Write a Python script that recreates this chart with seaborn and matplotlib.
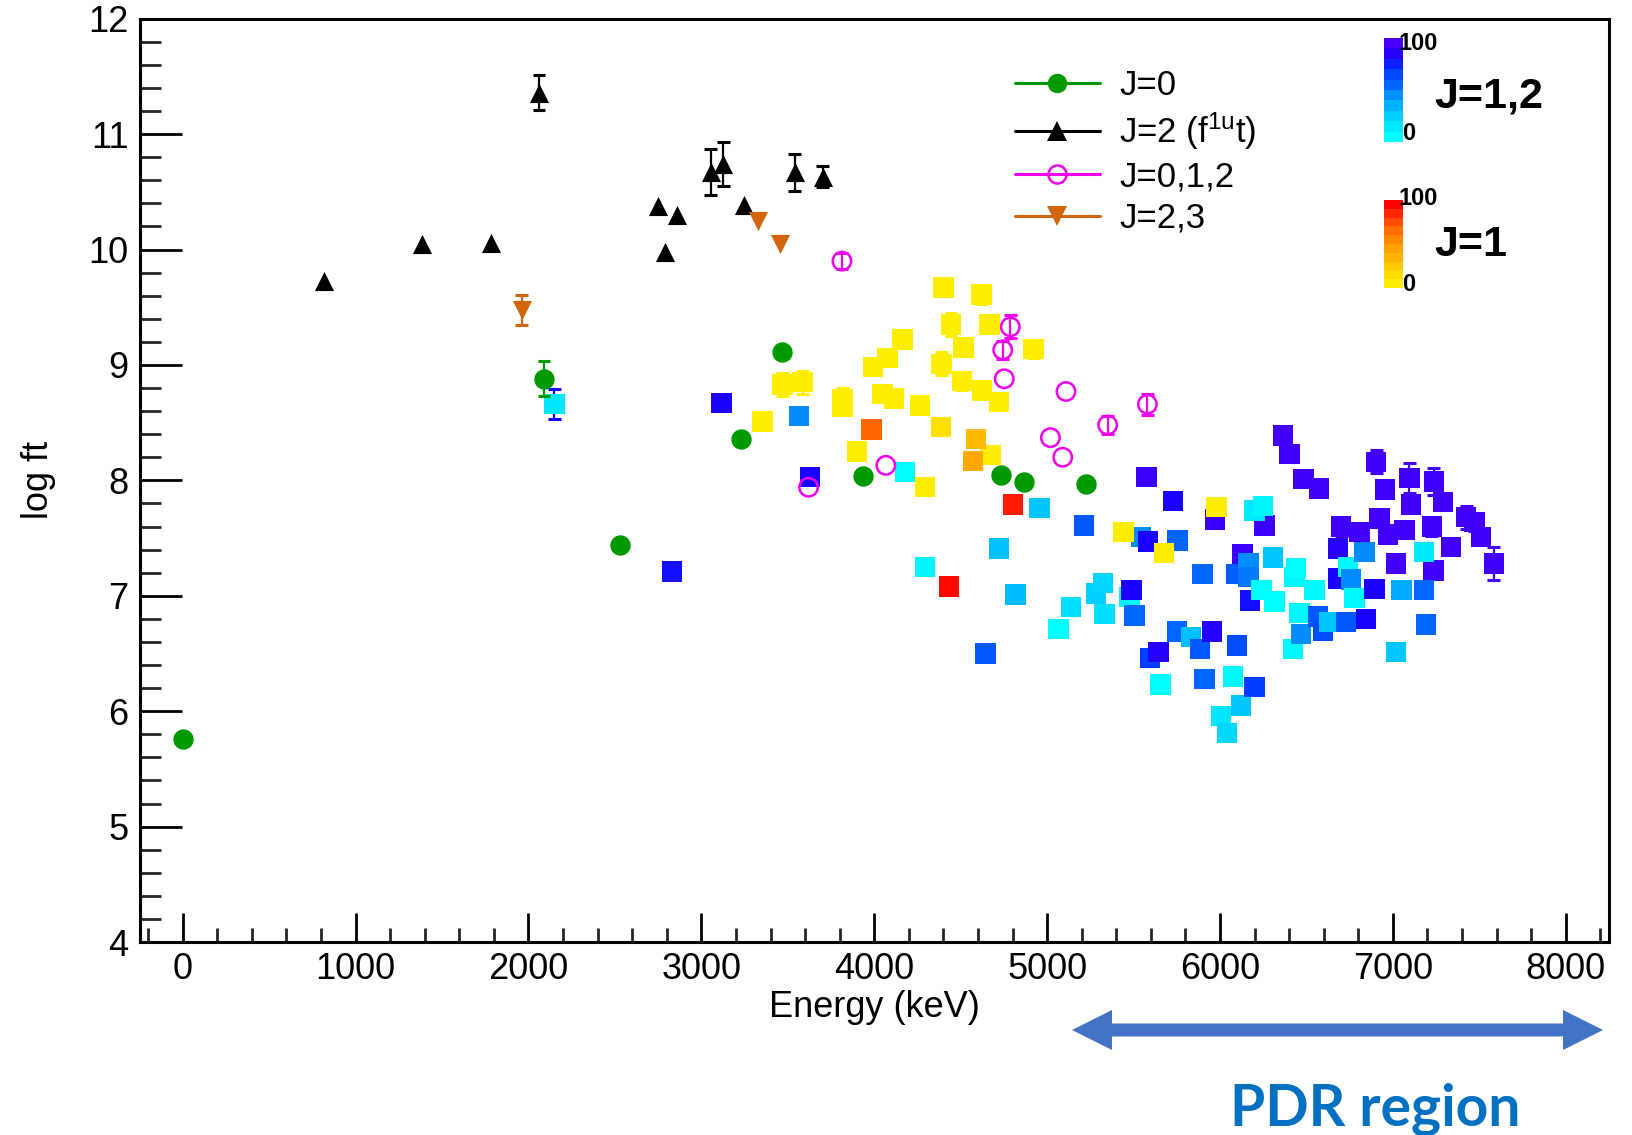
import numpy as np
import pandas as pd
import seaborn as sns
import matplotlib
matplotlib.use("Agg")
import matplotlib.pyplot as plt
from matplotlib.colors import LinearSegmentedColormap, Normalize
from matplotlib.lines import Line2D
from matplotlib.patches import Polygon
import matplotlib.ticker as mticker
import matplotlib.colorbar as mcolorbar

# ---------------- data ----------------
# J=0 (green circles)
j0_E = [0, 2090, 2530, 3229, 3464, 3936, 4734, 4864, 5225]
j0_logft = [5.76, 8.88, 7.44, 8.36, 9.11, 8.04, 8.05, 7.99, 7.97]
j0_err = [0, 0.15, 0, 0, 0, 0, 0, 0, 0]

# J=2 (f1u t) (black triangles)
j2_E = [819, 1386, 1786, 2061, 2752, 2790, 2858, 3055, 3126, 3244, 3541, 3701]
j2_logft = [9.73, 10.05, 10.06, 11.36, 10.38, 9.98, 10.30, 10.67, 10.74, 10.39, 10.67, 10.63]
j2_err = [0, 0, 0, 0.155, 0, 0, 0, 0.2, 0.19, 0, 0.16, 0.09]

# J=0,1,2 (magenta open circles)
j012_E = [3620, 3813, 4067, 4743, 4752, 4787, 5019, 5090, 5109, 5350, 5580]
j012_logft = [7.94, 9.90, 8.13, 9.13, 8.88, 9.33, 8.37, 8.20, 8.77, 8.48, 8.66]
j012_err = [0, 0.07, 0, 0.08, 0, 0.1, 0, 0, 0, 0.08, 0.09]

# J=2,3 (orange down triangles)
j23_E = [1960, 3330, 3455]
j23_logft = [9.48, 10.25, 10.05]
j23_err = [0.13, 0, 0]

# J=1 squares (colour scale 0-100, yellow -> red)
j1_E = [3354, 3470, 3586, 3817, 3817, 3900, 3991, 4077, 4048, 4116, 4164, 4266,
        4294, 4386, 4390, 4401, 4444, 4506, 4517, 4621, 4623, 4666, 4672, 4720,
        4922, 5441, 5676, 5979, 3985, 4588, 4570, 4804, 4433]
j1_logft = [8.51, 8.83, 8.85, 8.70, 8.64, 8.25, 8.98, 9.06, 8.75, 8.71, 9.22, 8.65,
            7.94, 8.46, 9.01, 9.67, 9.35, 8.86, 9.15, 9.61, 8.78, 9.35, 8.22, 8.68,
            9.14, 7.55, 7.37, 7.77, 8.44, 8.36, 8.17, 7.79, 7.08]
j1_z = [0, 0, 0, 0, 0, 0, 0, 0, 0, 0, 0, 0,
        0, 8, 0, 0, 0, 0, 0, 0, 0, 0, 0, 0,
        0, 0, 0, 0, 70, 30, 40, 92, 97]
j1_err = [0, 0.1, 0.1, 0.1, 0, 0, 0, 0, 0, 0, 0, 0,
          0, 0, 0.1, 0.06, 0.1, 0.08, 0, 0.08, 0, 0, 0, 0,
          0.08, 0, 0, 0, 0, 0, 0, 0, 0]

# J=1,2 squares (colour scale 0-100, cyan -> violet)
j12_E = [2150, 2150, 2831, 3117, 3566, 3628, 4179, 4295, 4644, 4720, 4818, 4955,
         5065, 5138, 5215, 5283, 5322, 5331, 5476, 5489, 5505, 5543, 5574, 5582,
         5596, 5644, 5655, 5727, 5750, 5754, 5833, 5885, 5898, 5910, 5953, 5970,
         6006, 6039, 6074, 6095, 6097, 6122, 6130, 6165, 6165, 6175, 6199, 6199,
         6248, 6257, 6239, 6307, 6315, 6363, 6402, 6421, 6431, 6440, 6459, 6469,
         6483, 6546, 6566, 6572, 6595, 6633, 6682, 6682, 6701, 6730, 6739, 6759,
         6778, 6807, 6836, 6846, 6894, 6903, 6922, 6955, 6971, 7017, 7019, 7049,
         7067, 7096, 7106, 7180, 7180, 7190, 7225, 7235, 7237, 7290, 7337, 7424,
         7472, 7511, 7584]
j12_logft = [8.66, 8.66, 7.21, 8.67, 8.56, 8.03, 8.07, 7.25, 6.50, 7.41, 7.01, 7.76,
             6.71, 6.90, 7.61, 7.02, 7.11, 6.84, 6.99, 7.05, 6.83, 7.51, 8.03, 7.47,
             6.46, 6.51, 6.23, 7.82, 6.69, 7.48, 6.64, 6.54, 7.19, 6.28, 6.69, 7.66,
             5.96, 5.81, 6.30, 7.19, 6.57, 6.05, 7.36, 7.28, 7.16, 6.96, 6.21, 7.74,
             7.78, 7.61, 7.05, 7.33, 6.95, 8.39, 8.23, 6.54, 7.16, 7.24, 6.85, 6.67,
             8.01, 7.05, 6.82, 7.93, 6.70, 6.77, 7.41, 7.15, 7.60, 6.77, 7.25, 7.14,
             6.98, 7.55, 7.38, 6.80, 7.06, 8.16, 7.67, 7.92, 7.53, 6.51, 7.28, 7.05,
             7.57, 8.02, 7.79, 7.38, 7.05, 6.75, 7.60, 7.22, 7.99, 7.81, 7.42, 7.68,
             7.64, 7.51, 7.28]
j12_z = [85, 12, 82, 85, 45, 85, 0, 5, 60, 28, 30, 25,
         0, 15, 60, 22, 20, 15, 5, 85, 55, 45, 95, 85,
         70, 88, 0, 85, 55, 55, 28, 60, 55, 55, 88, 95,
         12, 18, 3, 58, 65, 25, 95, 45, 50, 82, 70, 10,
         5, 95, 0, 25, 0, 98, 98, 3, 5, 0, 3, 45,
         98, 2, 60, 98, 65, 25, 90, 85, 98, 60, 3, 45,
         2, 98, 45, 85, 85, 98, 98, 98, 98, 25, 98, 35,
         98, 98, 98, 10, 55, 55, 98, 98, 98, 98, 98, 98,
         98, 98, 98]
j12_err = [0.13, 0, 0, 0, 0, 0, 0, 0, 0, 0, 0, 0,
           0, 0, 0, 0, 0, 0, 0, 0, 0, 0, 0, 0,
           0, 0, 0, 0, 0, 0, 0, 0, 0, 0, 0, 0,
           0, 0, 0, 0, 0, 0, 0, 0, 0, 0, 0, 0,
           0, 0, 0, 0, 0, 0.06, 0.06, 0, 0, 0, 0, 0,
           0, 0, 0, 0.06, 0, 0, 0, 0, 0.08, 0, 0, 0,
           0, 0.07, 0, 0, 0, 0.1, 0.07, 0.07, 0.07, 0, 0.07, 0,
           0.07, 0.13, 0.07, 0, 0, 0, 0.08, 0.07, 0.12, 0.07, 0.07, 0.1,
           0.08, 0.07, 0.14]

x_ticks = [0, 1000, 2000, 3000, 4000, 5000, 6000, 7000, 8000]
y_ticks = [4, 5, 6, 7, 8, 9, 10, 11, 12]
legend_labels = ["J=0", r"J=2 (f$^{\mathregular{1u}}$t)", "J=0,1,2", "J=2,3"]

# ---------------- style ----------------
sns.set_theme(style="white")
plt.rcParams["font.family"] = ["Liberation Sans", "DejaVu Sans"]
plt.rcParams["mathtext.fontset"] = "custom"
plt.rcParams["mathtext.rm"] = "Liberation Sans"
plt.rcParams["mathtext.it"] = "Liberation Sans:italic"
plt.rcParams["mathtext.bf"] = "Liberation Sans:bold"

GREEN = "#009900"
MAGENTA = "#F000F0"
ORANGE = "#D2640A"
BLACK = "#000000"

cmap12 = LinearSegmentedColormap.from_list(
    "j12", [(0.0, "#00FFFF"), (0.2, "#00D4FF"), (0.4, "#00A0FF"), (0.55, "#0066FF"),
            (0.7, "#0040FF"), (0.85, "#1A00FF"), (1.0, "#4800FA")])
cmap1 = LinearSegmentedColormap.from_list(
    "j1", [(0.0, "#FFEE00"), (0.3, "#FFBB00"), (0.45, "#FFA000"), (0.7, "#FF6600"),
           (1.0, "#FF0000")])
norm = Normalize(0, 100)

W, H = 1632, 1135
fig = plt.figure(figsize=(W / 100, H / 100), dpi=100)
ax = fig.add_axes([139.5 / W, 1 - 942 / H, 1469.5 / W, 923.3 / H])
ax.set_facecolor("white")

ERR_LW = 1.6
CAP_S = 85


def draw_err(E, y, err, colors, z):
    E = np.asarray(E, float)
    y = np.asarray(y, float)
    err = np.asarray(err, float)
    colors = np.asarray(colors)
    m = err > 0
    if not m.any():
        return
    ax.vlines(E[m], y[m] - err[m], y[m] + err[m], colors=colors[m],
              linewidth=ERR_LW, zorder=z)
    ax.scatter(np.r_[E[m], E[m]], np.r_[y[m] - err[m], y[m] + err[m]],
               marker="_", s=CAP_S, c=np.r_[colors[m], colors[m]],
               linewidths=2.2, zorder=z)


# J=1,2 squares: draw violet first, the others above
df12 = pd.DataFrame({"E": j12_E, "logft": j12_logft, "z": j12_z, "err": j12_err})
df12["order"] = np.where(df12["z"] >= 95, 0, 1)
df12 = df12.sort_values("order", kind="stable")
for grp, sub in df12.groupby("order"):
    cols = [cmap12(norm(v)) for v in sub["z"]]
    draw_err(sub["E"], sub["logft"], sub["err"], cols, 2 + grp * 0.1)
    sns.scatterplot(data=sub, x="E", y="logft", hue="z", palette=cmap12,
                    hue_norm=(0, 100), marker="s", s=215, linewidth=0,
                    legend=False, ax=ax, zorder=2.05 + grp * 0.1)

# J=1 squares
df1 = pd.DataFrame({"E": j1_E, "logft": j1_logft, "z": j1_z, "err": j1_err})
cols1 = [cmap1(norm(v)) for v in df1["z"]]
draw_err(df1["E"], df1["logft"], df1["err"], cols1, 2.3)
sns.scatterplot(data=df1, x="E", y="logft", hue="z", palette=cmap1,
                hue_norm=(0, 100), marker="s", s=215, linewidth=0,
                legend=False, ax=ax, zorder=2.35)

# J=0,1,2 open circles
draw_err(j012_E, j012_logft, j012_err, [MAGENTA] * len(j012_E), 2.5)
sns.scatterplot(x=j012_E, y=j012_logft, marker="o", s=175, facecolor="none",
                edgecolor=MAGENTA, linewidth=1.8, legend=False, ax=ax, zorder=2.55)

# J=0 green circles
draw_err(j0_E, j0_logft, j0_err, [GREEN] * len(j0_E), 2.6)
sns.scatterplot(x=j0_E, y=j0_logft, marker="o", s=215, color=GREEN,
                linewidth=0, legend=False, ax=ax, zorder=2.65)

# J=2 triangles
draw_err(j2_E, j2_logft, j2_err, [BLACK] * len(j2_E), 2.7)
sns.scatterplot(x=j2_E, y=j2_logft, marker="^", s=190, color=BLACK,
                linewidth=0, legend=False, ax=ax, zorder=2.75)

# J=2,3 down triangles
draw_err(j23_E, j23_logft, j23_err, [ORANGE] * len(j23_E), 2.8)
sns.scatterplot(x=j23_E, y=j23_logft, marker="v", s=190, color=ORANGE,
                linewidth=0, legend=False, ax=ax, zorder=2.85)

# ---------------- axes ----------------
ax.set_xlim(-250, 8250)
ax.set_ylim(4, 12)
ax.set_xticks(x_ticks)
ax.set_yticks(y_ticks)
ax.xaxis.set_minor_locator(mticker.MultipleLocator(200))
ax.yaxis.set_minor_locator(mticker.MultipleLocator(0.2))
for s in ax.spines.values():
    s.set_color("black")
    s.set_linewidth(2.2)
ax.tick_params(axis="x", which="major", direction="in", length=21, width=2.0,
               labelsize=26, pad=7, bottom=True, top=False, colors="black")
ax.tick_params(axis="x", which="minor", direction="in", length=10, width=2.0,
               bottom=True, top=False)
ax.tick_params(axis="y", which="major", direction="in", length=30, width=2.0,
               labelsize=26, pad=8, left=True, right=False, colors="black")
ax.tick_params(axis="y", which="minor", direction="in", length=15, width=2.0,
               left=True, right=False)
ax.grid(False)

ax.set_xlabel("Energy (keV)", fontsize=26, color="black")
ax.set_ylabel("log ft", fontsize=26, color="black")
ax.xaxis.set_label_coords(0.5, -0.052)
ax.yaxis.set_label_coords(-0.057, 0.5)

# ---------------- legend ----------------
handles = [
    Line2D([0], [0], color=GREEN, lw=2.2, marker="o", markersize=14,
           markerfacecolor=GREEN, markeredgewidth=0),
    Line2D([0], [0], color=BLACK, lw=2.2, marker="^", markersize=14,
           markerfacecolor=BLACK, markeredgewidth=0),
    Line2D([0], [0], color=MAGENTA, lw=2.2, marker="o", markersize=13,
           markerfacecolor="none", markeredgecolor=MAGENTA, markeredgewidth=1.8),
    Line2D([0], [0], color=ORANGE, lw=2.2, marker="v", markersize=14,
           markerfacecolor=ORANGE, markeredgewidth=0),
]
leg = ax.legend(handles, legend_labels, loc="upper left",
                bbox_to_anchor=(0.5957, 0.945), frameon=False, fontsize=25,
                handlelength=2.45, handletextpad=0.55, labelspacing=0.24,
                borderpad=0, borderaxespad=0)
for t in leg.get_texts():
    t.set_color("black")

# ---------------- colour scales ----------------
cax12 = fig.add_axes([1384 / W, 1 - 142 / H, 19 / W, 104 / H])
cb12 = mcolorbar.ColorbarBase(cax12, cmap=cmap12.resampled(10), norm=norm,
                              orientation="vertical")
cb12.set_ticks([])
cb12.outline.set_visible(False)
cax1 = fig.add_axes([1384 / W, 1 - 288 / H, 19 / W, 88 / H])
cb1 = mcolorbar.ColorbarBase(cax1, cmap=cmap1.resampled(10), norm=norm,
                             orientation="vertical")
cb1.set_ticks([])
cb1.outline.set_visible(False)

fig.text(1399 / W, 1 - 44 / H, "100", fontsize=17, fontweight="bold",
         ha="left", va="center", color="black")
fig.text(1402 / W, 1 - 134 / H, "0", fontsize=17, fontweight="bold",
         ha="left", va="center", color="black")
fig.text(1434 / W, 1 - 97 / H, "J=1,2", fontsize=31, fontweight="bold",
         ha="left", va="center", color="black")
fig.text(1399 / W, 1 - 198 / H, "100", fontsize=17, fontweight="bold",
         ha="left", va="center", color="black")
fig.text(1402 / W, 1 - 284 / H, "0", fontsize=17, fontweight="bold",
         ha="left", va="center", color="black")
fig.text(1434 / W, 1 - 245 / H, "J=1", fontsize=31, fontweight="bold",
         ha="left", va="center", color="black")

# ---------------- PDR region annotation (double-headed arrow) ----------------
ARROW = "#4472C4"
x_left, x_right, y_mid = 1072, 1603, 1030        # figure pixels
head_len, head_half, shaft_half = 40, 20, 6.5
pts_px = [
    (x_left, y_mid),
    (x_left + head_len, y_mid - head_half),
    (x_left + head_len, y_mid - shaft_half),
    (x_right - head_len, y_mid - shaft_half),
    (x_right - head_len, y_mid - head_half),
    (x_right, y_mid),
    (x_right - head_len, y_mid + head_half),
    (x_right - head_len, y_mid + shaft_half),
    (x_left + head_len, y_mid + shaft_half),
    (x_left + head_len, y_mid + head_half),
]
pts = [(px / W, 1 - py / H) for px, py in pts_px]
fig.patches.append(Polygon(pts, closed=True, facecolor=ARROW, edgecolor="none",
                           transform=fig.transFigure, figure=fig))
fig.text(1375.5 / W, 1 - 1126 / H, "PDR region", fontsize=41, fontweight="bold",
         family=["Lato", "DejaVu Sans"], color="#0070C0", ha="center",
         va="baseline")

fig.savefig("out.png", dpi=100, facecolor="white")
